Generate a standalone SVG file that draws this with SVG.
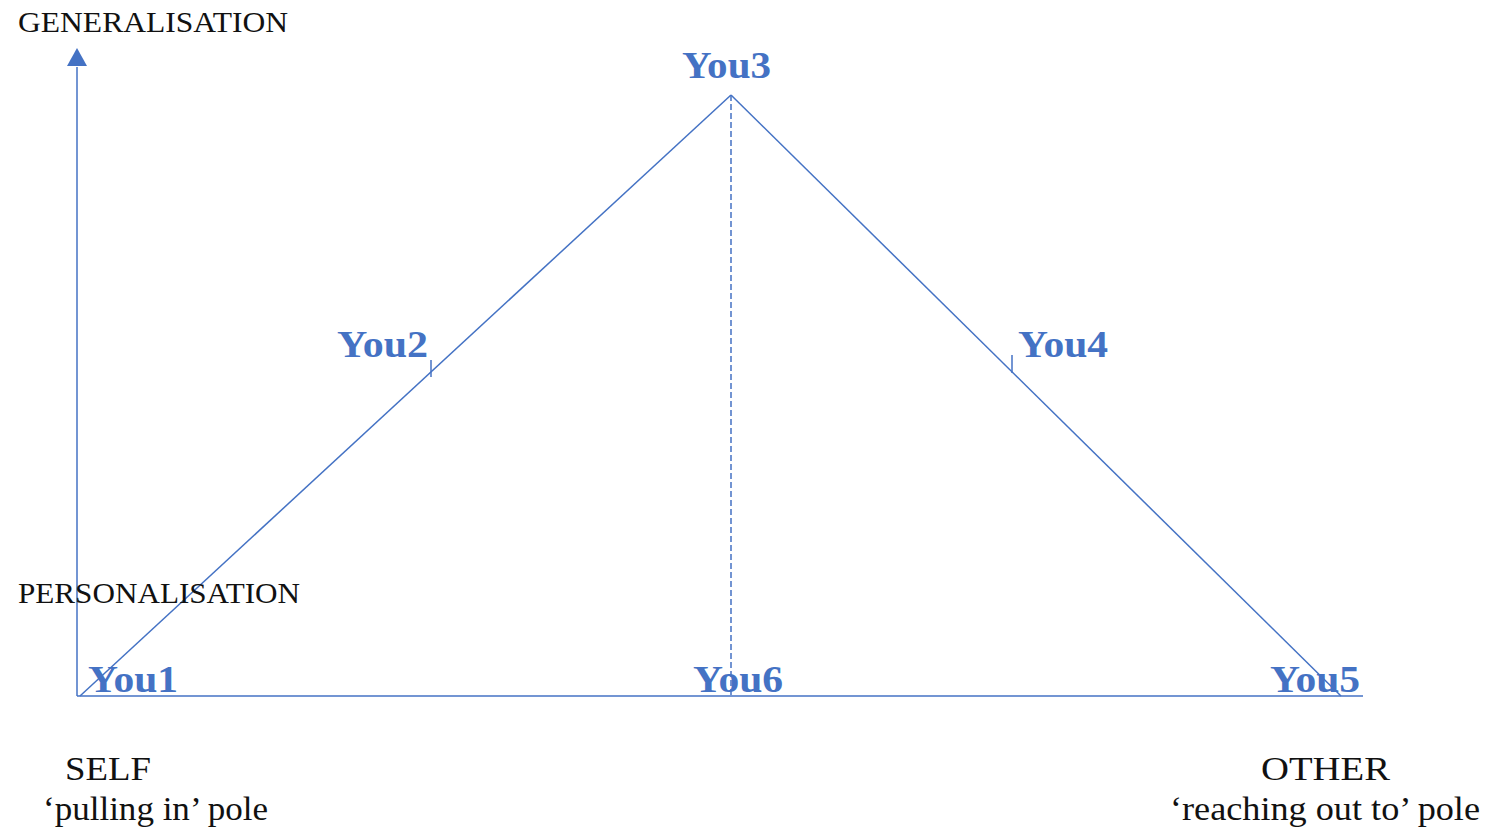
<svg xmlns="http://www.w3.org/2000/svg" width="1490" height="836" viewBox="0 0 1490 836">
<style>
.lbl{font-family:"Liberation Serif","Times New Roman",serif;font-size:30px;fill:#111;}
.pole{font-family:"Liberation Serif","Times New Roman",serif;font-size:33px;fill:#111;}
.you{font-family:"Liberation Serif","Times New Roman",serif;font-size:38px;font-weight:bold;fill:#4472C4;}
.ln{stroke:#4472C4;stroke-width:1.5;fill:none;}
</style>
<defs>
<marker id="ah" markerWidth="14" markerHeight="12" refX="1" refY="6" orient="auto" markerUnits="userSpaceOnUse" viewBox="0 0 14 12">
<path d="M0,0 L14,6 L0,12 Z" fill="#4472C4"/>
</marker>
</defs>
<g id="connectors">
<line class="ln" x1="77" y1="696" x2="77" y2="67"/>
<path d="M77,48 L87,66 L67,66 Z" fill="#4472C4"/>
<line class="ln" x1="77" y1="696" x2="1363" y2="696"/>
<line class="ln" x1="80" y1="696" x2="731" y2="95"/>
<line class="ln" x1="731" y1="95" x2="1341" y2="696"/>
<line class="ln" x1="731" y1="95" x2="731" y2="696" stroke-dasharray="6,3"/>
<line class="ln" x1="431" y1="360" x2="431" y2="377"/>
<line class="ln" x1="1012" y1="355" x2="1012" y2="373"/>
</g>
<g id="axis-labels">
<text id="generalisation" class="lbl" x="18" y="32" textLength="270" lengthAdjust="spacingAndGlyphs">GENERALISATION</text>
<text id="personalisation" class="lbl" x="18" y="603" textLength="282" lengthAdjust="spacingAndGlyphs">PERSONALISATION</text>
</g>
<g id="you1"><text class="you" x="88" y="692" textLength="90" lengthAdjust="spacingAndGlyphs">You1</text></g>
<g id="you2"><text class="you" x="337" y="357" textLength="91" lengthAdjust="spacingAndGlyphs">You2</text></g>
<g id="you3"><text class="you" x="682" y="78" textLength="89" lengthAdjust="spacingAndGlyphs">You3</text></g>
<g id="you4"><text class="you" x="1018" y="357" textLength="90" lengthAdjust="spacingAndGlyphs">You4</text></g>
<g id="you5"><text class="you" x="1270" y="692" textLength="90" lengthAdjust="spacingAndGlyphs">You5</text></g>
<g id="you6"><text class="you" x="693" y="692" textLength="90" lengthAdjust="spacingAndGlyphs">You6</text></g>
<g id="self">
<text class="pole" x="65" y="780" textLength="86" lengthAdjust="spacingAndGlyphs">SELF</text>
<text class="pole" x="43" y="820" textLength="225" lengthAdjust="spacingAndGlyphs">‘pulling in’ pole</text>
</g>
<g id="other">
<text class="pole" x="1261" y="780" textLength="129" lengthAdjust="spacingAndGlyphs">OTHER</text>
<text class="pole" x="1170" y="820" textLength="310" lengthAdjust="spacingAndGlyphs">‘reaching out to’ pole</text>
</g>
</svg>
